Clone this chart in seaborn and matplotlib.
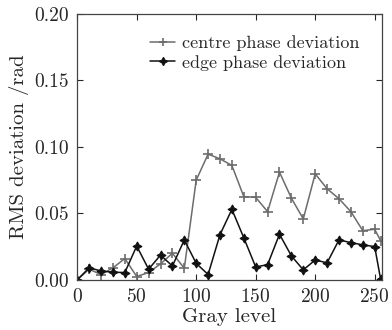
import matplotlib
matplotlib.use("Agg")
import matplotlib.pyplot as plt
import seaborn as sns

gray_level = [0, 10, 20, 30, 40, 50, 60, 70, 80, 90, 100, 110, 120, 130, 140,
              150, 160, 170, 180, 190, 200, 210, 220, 230, 240, 250, 255]
centre_dev = [0.000, 0.008, 0.004, 0.009, 0.016, 0.0025, 0.0055, 0.012, 0.020, 0.0087,
              0.075, 0.0945, 0.091, 0.086, 0.0626, 0.062, 0.0513, 0.081, 0.0614, 0.0458,
              0.0797, 0.0685, 0.061, 0.0513, 0.037, 0.038, 0.0295]
edge_dev = [0.000, 0.009, 0.0067, 0.0057, 0.0055, 0.0254, 0.008, 0.0186, 0.0104, 0.030,
            0.0124, 0.004, 0.034, 0.053, 0.0316, 0.0097, 0.0114, 0.0343, 0.018, 0.0075,
            0.0149, 0.0128, 0.030, 0.028, 0.0263, 0.025, 0.0005]
series_names = ["centre phase deviation", "edge phase deviation"]
x_ticks = [0, 50, 100, 150, 200, 250]
y_ticks = [0.00, 0.05, 0.10, 0.15, 0.20]
y_tick_labels = ["0.00", "0.05", "0.10", "0.15", "0.20"]

sns.set_style("ticks")
plt.rcParams["font.family"] = ["cmr10", "DejaVu Serif"]
plt.rcParams["axes.formatter.use_mathtext"] = True
plt.rcParams["mathtext.fontset"] = "cm"

fig = plt.figure(figsize=(3.92, 3.30), dpi=100)
ax = fig.add_axes([0.197, 0.152, 0.777, 0.806])

centre_col = "#6c6c6c"
edge_col = "#111111"
sns.lineplot(x=gray_level, y=centre_dev, color=centre_col, marker="+",
             markersize=6.5, markeredgewidth=1.2, markeredgecolor=centre_col,
             linewidth=1.1, label=series_names[0], ax=ax)
sns.lineplot(x=gray_level, y=edge_dev, color=edge_col, marker=(4, 1, 0),
             markersize=6.5, markeredgewidth=0.8, markeredgecolor=edge_col,
             markerfacecolor=edge_col, linewidth=1.1,
             label=series_names[1], ax=ax)

ax.set_xlim(0, 256)
ax.set_ylim(0, 0.20)
ax.set_xticks(x_ticks)
ax.set_yticks(y_ticks)
ax.set_yticklabels(y_tick_labels)
ax.tick_params(direction="in", top=True, right=True, labelsize=14, length=4,
               width=0.8, pad=6)
for s in ax.spines.values():
    s.set_linewidth(0.9)
    s.set_color("#444444")

ax.set_xlabel("Gray level", fontsize=15, labelpad=1)
ax.set_ylabel("RMS deviation /rad", fontsize=15, labelpad=4)

leg = ax.legend(loc="upper left", bbox_to_anchor=(0.215, 0.946), frameon=False,
                fontsize=13, handlelength=1.4, handletextpad=0.4,
                labelspacing=0.2, borderaxespad=0)
for h in leg.legend_handles:
    h.set_markersize(6)

fig.savefig("out.png", dpi=100)
